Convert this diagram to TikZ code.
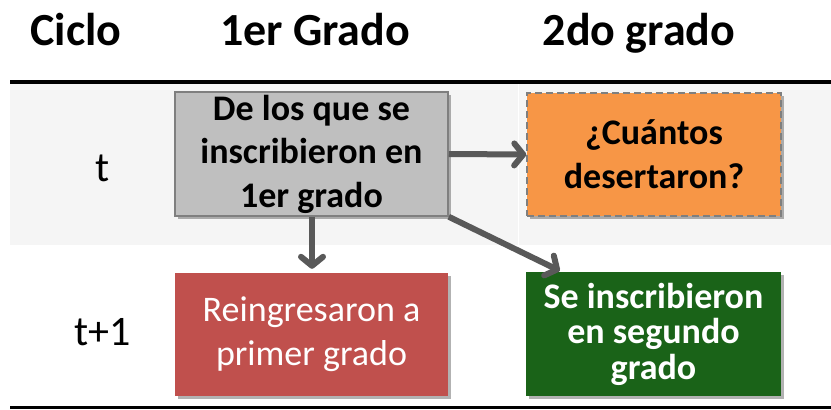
\documentclass[tikz,border=0pt]{standalone}
\usepackage{fontspec}
\setmainfont{Carlito}
\usetikzlibrary{shadows,arrows.meta}
\definecolor{band}{HTML}{F5F5F5}
\definecolor{boxgray}{HTML}{BFBFBF}
\definecolor{edgegray}{HTML}{7F7F7F}
\definecolor{orangebox}{HTML}{F79646}
\definecolor{redbox}{HTML}{C0504D}
\definecolor{greenbox}{HTML}{1A6318}
\definecolor{arrowgray}{HTML}{595959}
\tikzset{
  hdr/.style={font=\fontsize{46}{52}\selectfont\bfseries, anchor=base, inner sep=0pt},
  rowlbl/.style={font=\fontsize{42}{48}\selectfont, anchor=base, inner sep=0pt},
  boxbase/.style={rectangle, align=center, inner sep=0pt,
    drop shadow={shadow xshift=3pt, shadow yshift=-3pt, opacity=0.3, fill=black}},
  graybox/.style={boxbase, fill=boxgray, draw=edgegray, line width=1.5pt,
    minimum width=273pt, minimum height=124pt,
    font=\fontsize{36}{43.5}\selectfont\bfseries},
  orangeb/.style={boxbase, fill=orangebox, draw=edgegray, dash pattern=on 7pt off 4pt, line width=1.5pt,
    minimum width=254pt, minimum height=123pt,
    font=\fontsize{36}{44}\selectfont\bfseries},
  redb/.style={boxbase, fill=redbox, minimum width=273pt, minimum height=123pt,
    text=white, font=\fontsize{36}{44}\selectfont},
  greenb/.style={boxbase, fill=greenbox, minimum width=255pt, minimum height=124pt,
    text=white, font=\fontsize{36}{35.5}\selectfont\bfseries},
  arr/.style={draw=arrowgray, line width=6pt,
    -{Straight Barb[length=9pt,width=22pt,line cap=round,line join=round]}}
}
\begin{document}
\begin{tikzpicture}[x=1pt,y=-1pt]
\useasboundingbox (0,0) rectangle (831,410);
\fill[band] (10,84) rectangle (831,245);
\draw[white, line width=1pt] (518,84) -- (518,245);
\draw[line width=4pt] (10,82) -- (831,82);
\draw[line width=2.5pt] (10,407.5) -- (831,407.5);

\node[hdr] (hc) at (76,45) {Ciclo};
\node[hdr] (h1) at (315,45) {1er Grado};
\node[hdr] (h2) at (639,45) {2do grado};

\node[rowlbl] (rt) at (103,181) {t};
\node[rowlbl] (rt1) at (103,345) {t+1};

\node[graybox] (g) at (311.5,154) {De los que se\\inscribieron en\\1er grado};
\node[orangeb] (o) at (654,154.5) {¿Cuántos\\desertaron?};
\node[redb] (r) at (311.5,334.5) {Reingresaron a\\primer grado};
\node[greenb] (gr) at (653.5,334) {Se inscribieron\\en segundo\\grado};

\draw[arr] (g.east) -- (o.west);
\draw[arr, shorten >=4pt] ([xshift=0.5pt]g.south) -- ([xshift=0.5pt]r.north);
\draw[arr] (g.south east) -- ([xshift=34pt,yshift=1pt]gr.north west);
\end{tikzpicture}
\end{document}
